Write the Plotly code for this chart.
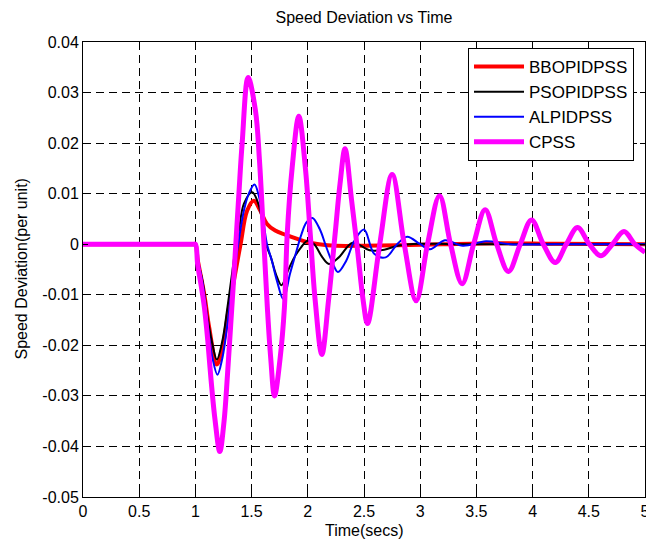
import plotly.graph_objects as go

# ---------------- data ----------------
series_names = ["BBOPIDPSS", "PSOPIDPSS", "ALPIDPSS", "CPSS"]

t_bbo = [0, 0.98, 1.0, 1.02, 1.079, 1.123, 1.191, 1.24, 1.299, 1.358, 1.402, 1.46, 1.519,
         1.578, 1.637, 1.71, 1.8, 1.9, 2.0, 2.1, 2.25, 2.5, 2.8, 3.2, 3.7, 4.2, 5.0]
v_bbo = [0, 0, 0, -0.003, -0.0099, -0.0165, -0.0238, -0.0205, -0.0125, -0.0053, 0.0, 0.0066, 0.0086,
         0.0066, 0.004, 0.0027, 0.0019, 0.0011, 0.0004, 0.0, -0.0003, -0.0003, -0.0002, 0.0, 0.0002, 0.0001, 0.0]

t_pso = [0, 0.98, 1.0, 1.02, 1.065, 1.108, 1.152, 1.191, 1.24, 1.285, 1.329, 1.358, 1.387, 1.431,
         1.505, 1.56, 1.604, 1.628, 1.672, 1.716, 1.766, 1.822, 1.88, 1.94, 1.998, 2.057, 2.13,
         2.188, 2.276, 2.4, 2.55, 2.68, 2.8, 3.0, 3.3, 5.0]
v_pso = [0, 0, 0, -0.003, -0.0075, -0.0145, -0.0198, -0.0228, -0.0191, -0.0125, -0.0053, -0.0006, 0.0027, 0.008,
         0.0103, 0.008, 0.0033, 0.0, -0.0026, -0.0059, -0.0081, -0.0053, -0.0026, -0.0006, 0.0007, 0.0, -0.0026,
         -0.0039, -0.0026, 0.0003, -0.0012, -0.0011, -0.0003, 0.0001, 0.0, 0.0]

t_alp = [0, 0.98, 1.0, 1.02, 1.065, 1.108, 1.152, 1.196, 1.24, 1.285, 1.329, 1.381, 1.431, 1.475,
         1.526, 1.567, 1.604, 1.637, 1.681, 1.725, 1.783, 1.841, 1.9, 1.944, 1.988, 2.041,
         2.106, 2.165, 2.224, 2.268, 2.341, 2.415, 2.5, 2.591, 2.693, 2.795, 2.884, 3.0,
         3.088, 3.22, 3.38, 3.585, 3.8, 4.2, 5.0]
v_alp = [0, 0, 0, -0.003, -0.0079, -0.0158, -0.0225, -0.0258, -0.0225, -0.0158, -0.0079, 0.0, 0.0066, 0.010,
         0.0118, 0.0093, 0.0047, 0.0, -0.0033, -0.0072, -0.0109, -0.0059, -0.0013, 0.002, 0.0043, 0.0052,
         0.003, -0.0006, -0.0039, -0.0055, -0.0033, 0.0007, 0.0029, -0.0019, -0.0026, 0.0, 0.0015, 0.0,
         -0.001, 0.0008, -0.0003, 0.0006, 0.0, 0.0, 0.0]

t_cpss = [0, 0.98, 1.0, 1.02, 1.05, 1.08, 1.11, 1.14, 1.176, 1.217, 1.255, 1.285, 1.314, 1.343,
          1.387, 1.416, 1.469, 1.534, 1.57, 1.61, 1.64, 1.67, 1.704, 1.754, 1.792, 1.817,
          1.861, 1.92, 1.978, 2.022, 2.066, 2.125, 2.184, 2.243, 2.287, 2.331, 2.39, 2.443,
          2.493, 2.531, 2.64, 2.75, 2.858, 2.964, 3.065, 3.172, 3.27, 3.373, 3.475, 3.578,
          3.68, 3.785, 3.89, 3.99, 4.095, 4.202, 4.3, 4.4, 4.505, 4.607, 4.71, 4.813, 4.91, 5.0]
v_cpss = [0, 0, 0, -0.004, -0.008, -0.0125, -0.019, -0.027, -0.035, -0.041, -0.035, -0.026, -0.016, -0.006,
          0.010, 0.020, 0.033, 0.0265, 0.0166, 0.0, -0.0125, -0.0225, -0.030, -0.0225, -0.0125, 0.002,
          0.0152, 0.0253, 0.0152, 0.002, -0.0112, -0.0218, -0.0112, 0.002, 0.012, 0.0189, 0.0086, -0.0013,
          -0.0112, -0.0157, 0.0, 0.0138, 0.0, -0.0112, 0.0, 0.0096, 0.0, -0.0078, 0.0, 0.0068,
          0.0, -0.0054, 0.0, 0.0048, 0.0, -0.0036, 0.0, 0.0033, 0.0, -0.0023, 0.0, 0.0025, 0.0, -0.0016]

x_tick_vals = [0, 0.5, 1, 1.5, 2, 2.5, 3, 3.5, 4, 4.5, 5]
x_tick_text = ["0", "0.5", "1", "1.5", "2", "2.5", "3", "3.5", "4", "4.5", "5"]
y_tick_vals = [-0.05, -0.04, -0.03, -0.02, -0.01, 0, 0.01, 0.02, 0.03, 0.04]
y_tick_text = ["-0.05", "-0.04", "-0.03", "-0.02", "-0.01", "0", "0.01", "0.02", "0.03", "0.04"]

chart_title = "Speed Deviation vs Time"
x_title = "Time(secs)"
y_title = "Speed Deviation(per unit)"

# ---------------- figure ----------------
FONT = "Liberation Sans, Arial, Helvetica, sans-serif"
styles = [("#ff0000", 4), ("#000000", 2), ("#0000ff", 2), ("#ff00ff", 5)]
data = [(t_bbo, v_bbo), (t_pso, v_pso), (t_alp, v_alp), (t_cpss, v_cpss)]

# the page body adds an 8px margin; figure pixel (x, y) lands at page (x+8, y+8)
W, H = 646, 532
ML, MR, MT, MB = 75, 9, 34, 43
plot_h = H - MT - MB
plot_w = W - ML - MR

fig = go.Figure()
for name, (tt, vv), (col, w) in zip(series_names, data, styles):
    fig.add_trace(go.Scatter(x=tt, y=vv, mode="lines", name=name,
                             line=dict(color=col, width=w, shape="spline", smoothing=1.0)))

axis_common = dict(showline=True, linecolor="black", linewidth=1, mirror="allticks",
                   ticks="inside", ticklen=5, tickcolor="black", automargin=False,
                   showgrid=True, gridcolor="black", gridwidth=1, griddash="8px,5px",
                   zeroline=False, tickfont=dict(family=FONT, size=16, color="black"))

fig.update_layout(
    width=W, height=H,
    margin=dict(l=ML, r=MR, t=MT, b=MB, autoexpand=False),
    paper_bgcolor="white", plot_bgcolor="white",
    font=dict(family=FONT, size=16, color="black"),
    title=dict(text=chart_title, x=0.5, xanchor="center", xref="paper",
               y=1 - 9 / H, yanchor="middle", font=dict(family=FONT, size=16, color="black")),
    xaxis=dict(range=[0, 5], tickmode="array", tickvals=x_tick_vals, ticktext=x_tick_text,
               **axis_common),
    yaxis=dict(range=[-0.05, 0.04], tickmode="array", tickvals=y_tick_vals, ticktext=y_tick_text,
               **axis_common),
    legend=dict(x=(460 - ML) / plot_w, y=1 - (40 - MT) / plot_h, xanchor="left", yanchor="top",
                itemwidth=50,
                bgcolor="white", bordercolor="black", borderwidth=1,
                font=dict(family=FONT, size=17, color="black")),
    showlegend=True,
    annotations=[
        dict(text=x_title, xref="paper", yref="paper", x=0.5, y=-(522 - (H - MB)) / plot_h,
             xanchor="center", yanchor="middle", showarrow=False,
             font=dict(family=FONT, size=16, color="black")),
        dict(text=y_title, xref="paper", yref="paper", x=-(ML - 13) / plot_w, y=0.5,
             xanchor="center", yanchor="middle", showarrow=False, textangle=-90,
             font=dict(family=FONT, size=16, color="black")),
    ],
)

fig.write_html("out.html")
